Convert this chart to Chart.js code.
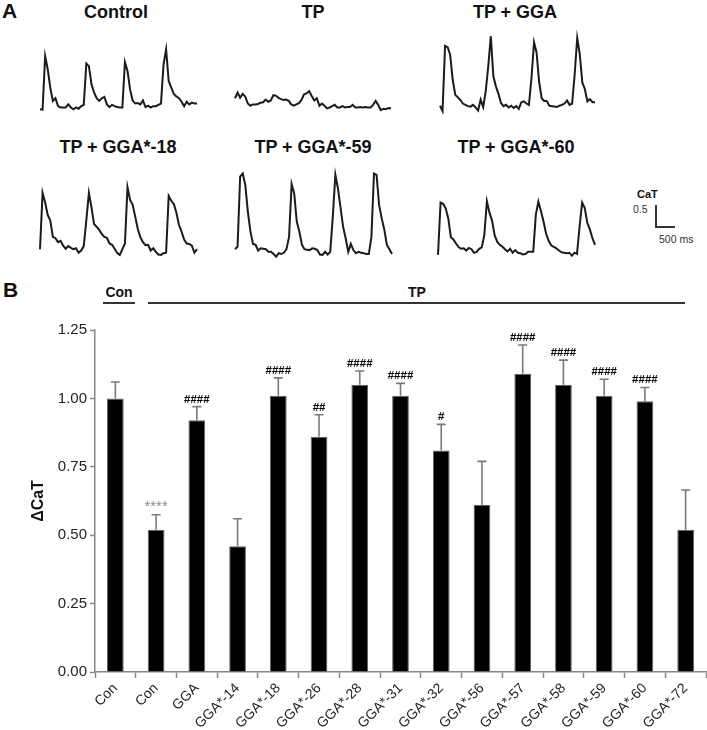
<!DOCTYPE html>
<html>
<head>
<meta charset="utf-8">
<script src="https://cdn.jsdelivr.net/npm/chart.js@4.4.0/dist/chart.umd.min.js"></script>
<style>
  body { margin: 0; background: #fff; width: 707px; height: 730px; position: relative; overflow: hidden;
         font-family: "Liberation Sans", Arial, sans-serif; color: #111; }
  canvas { position: absolute; }
  .t { position: absolute; white-space: nowrap; line-height: 1; }
  .b { font-weight: bold; }
  .c { transform: translateX(-50%); }
  .ln { position: absolute; background: #333; }
</style>
</head>
<body>
<!-- panel A -->
<div class="t b" style="left:2px;top:0px;font-size:21px">A</div>
<div class="t b c" style="left:116px;top:3px;font-size:18px">Control</div>
<div class="t b c" style="left:313px;top:3px;font-size:18px">TP</div>
<div class="t b c" style="left:515px;top:3px;font-size:18px">TP + GGA</div>
<div class="t b c" style="left:118px;top:138px;font-size:18px">TP + GGA*-18</div>
<div class="t b c" style="left:313px;top:138px;font-size:18px">TP + GGA*-59</div>
<div class="t b c" style="left:516px;top:138px;font-size:18px">TP + GGA*-60</div>

<canvas id="trControl"></canvas>
<canvas id="trTP"></canvas>
<canvas id="trGGA"></canvas>
<canvas id="tr18"></canvas>
<canvas id="tr59"></canvas>
<canvas id="tr60"></canvas>

<!-- scale bar -->
<div class="t b" style="left:637px;top:189px;font-size:11px">CaT</div>
<div class="t" style="left:633px;top:204px;font-size:10.5px;color:#333">0.5</div>
<div class="ln" style="left:655px;top:205px;width:1.5px;height:22px"></div>
<div class="ln" style="left:655px;top:226px;width:20px;height:1.5px"></div>
<div class="t" style="left:659px;top:234px;font-size:10.5px;color:#333">500 ms</div>

<!-- panel B -->
<div class="t b" style="left:3px;top:279px;font-size:21px">B</div>
<div class="t b c" style="left:119px;top:285px;font-size:14px">Con</div>
<div class="ln" style="left:103px;top:302px;width:32px;height:1.5px"></div>
<div class="t b c" style="left:417px;top:285px;font-size:14px">TP</div>
<div class="ln" style="left:148px;top:302px;width:537px;height:1.5px"></div>

<canvas id="barChart" width="707" height="430" style="left:0;top:300px"></canvas>

<script>
// ---- panel A: CaT traces (ΔCaT above baseline, one sample every 64 ms) ----
var DT = 64;
var PX_PER_CAT = 44;

var controlTrace = [0.04,0.03,1.25,0.95,0.53,0.23,0.29,0.11,0.08,0.08,0.08,0.15,0.08,0.04,0.08,0.05,0.11,0.14,
  1.08,1.02,0.61,0.42,0.29,0.23,0.29,0.32,0.15,0.09,0.14,0.11,0.09,0.08,0.08,
  1.11,0.91,0.49,0.24,0.17,0.18,0.15,0.24,0.09,0.12,0.08,0.11,0.11,0.14,0.17,
  1.06,1.40,0.68,0.53,0.39,0.33,0.29,0.21,0.11,0.21,0.15,0.19,0.17,0.17];

var tpTrace = [0.29,0.42,0.30,0.39,0.33,0.17,0.12,0.15,0.15,0.16,0.19,0.20,0.26,0.21,0.24,0.36,0.35,0.30,0.27,0.25,
  0.26,0.23,0.15,0.12,0.15,0.18,0.25,0.38,0.40,0.45,0.34,0.24,0.29,0.12,0.17,0.12,0.06,0.08,0.11,0.14,
  0.08,0.08,0.11,0.08,0.09,0.09,0.14,0.08,0.08,0.09,0.08,0.09,0.08,0.08,0.14,0.23,0.14,0.02,0.05,0.04,0.07,0.06];

var ggaTrace = [0.12,0.00,1.48,1.45,1.28,0.71,0.37,0.31,0.25,0.17,0.14,0.11,0.10,0.14,0.08,0.01,0.26,0.09,
  0.45,1.02,1.70,0.79,0.56,0.39,0.18,0.11,0.14,0.08,0.12,0.07,0.11,0.05,0.20,0.22,0.17,0.14,
  0.75,1.56,1.33,0.67,0.29,0.23,0.23,0.12,0.11,0.10,0.09,0.12,0.14,0.17,0.24,0.14,0.17,
  0.83,1.66,1.30,0.65,0.50,0.22,0.27,0.20,0.20];

var gga18Trace = [0.20,1.48,1.26,0.98,0.85,0.48,0.45,0.36,0.39,0.28,0.21,0.27,0.23,0.20,0.22,0.12,0.17,0.27,
  0.86,1.48,1.15,0.77,0.71,0.64,0.55,0.48,0.46,0.33,0.30,0.21,0.11,0.07,0.20,0.33,
  1.61,1.32,1.21,0.94,0.66,0.47,0.36,0.29,0.30,0.17,0.22,0.14,0.08,0.07,0.11,0.12,
  1.41,1.30,1.23,1.03,0.75,0.60,0.42,0.33,0.32,0.28,0.12,0.20];

var gga59Trace = [0.20,0.26,1.85,1.92,1.66,1.05,0.60,0.32,0.30,0.17,0.22,0.21,0.20,0.14,0.14,0.09,0.03,0.11,0.09,0.12,0.20,
  0.48,1.68,1.47,0.83,0.60,0.30,0.20,0.19,0.18,0.22,0.21,0.18,0.08,0.07,0.14,0.08,0.14,
  0.94,1.89,1.58,1.15,0.71,0.45,0.14,0.32,0.18,0.11,0.14,0.12,0.11,0.09,0.09,
  0.48,1.92,1.89,1.20,0.90,0.65,0.30,0.20,0.09];

var gga60Trace = [0.07,1.26,1.23,1.13,0.90,0.47,0.42,0.33,0.25,0.21,0.22,0.17,0.23,0.20,0.12,0.14,0.21,0.24,
  0.52,1.29,1.03,0.85,0.52,0.37,0.30,0.26,0.20,0.15,0.21,0.12,0.18,0.12,0.11,0.08,0.09,0.14,0.14,0.14,
  0.98,1.28,1.07,0.83,0.55,0.39,0.29,0.25,0.22,0.17,0.13,0.12,0.11,0.12,0.05,0.12,0.09,
  0.71,1.26,1.14,0.80,0.65,0.45,0.30];

// ---- panel B: ΔCaT bar chart ----
var categories = ["Con","Con","GGA","GGA*-14","GGA*-18","GGA*-26","GGA*-28","GGA*-31",
                  "GGA*-32","GGA*-56","GGA*-57","GGA*-58","GGA*-59","GGA*-60","GGA*-72"];
var meanCaT = [1.00,0.52,0.92,0.46,1.01,0.86,1.05,1.01,0.81,0.61,1.09,1.05,1.01,0.99,0.52];
var semCaT  = [0.06,0.055,0.05,0.10,0.065,0.08,0.05,0.045,0.095,0.16,0.105,0.09,0.06,0.05,0.145];
var marks   = ["","****","####","","####","##","####","####","#","","####","####","####","####",""];
var yTicks  = [0,0.25,0.5,0.75,1.0,1.25];

Chart.defaults.font.family = '"Liberation Sans", Arial, sans-serif';

function traceChart(id, values, left, baseline, width) {
  var H = 100, pad = 4;
  var cv = document.getElementById(id);
  cv.width = width + 2 * pad;
  cv.height = H + 2 * pad;
  cv.style.left = (left - pad) + 'px';
  cv.style.top = (baseline - H - pad) + 'px';
  new Chart(cv, {
    type: 'line',
    data: {
      datasets: [{
        data: values.map(function(v, i) { return {x: i * DT, y: v}; }),
        borderColor: '#1b1b1b',
        borderWidth: 2,
        pointRadius: 0,
        tension: 0,
        clip: pad
      }]
    },
    options: {
      responsive: false,
      animation: false,
      events: [],
      layout: {padding: pad},
      plugins: {legend: {display: false}, tooltip: {enabled: false}},
      scales: {
        x: {type: 'linear', display: false, min: 0, max: (values.length - 1) * DT},
        y: {display: false, min: 0, max: H / PX_PER_CAT}
      }
    }
  });
}

traceChart('trControl', controlTrace, 40, 111, 157);
traceChart('trTP', tpTrace, 235, 111, 156);
traceChart('trGGA', ggaTrace, 440, 111, 155);
traceChart('tr18', gga18Trace, 40, 258, 157);
traceChart('tr59', gga59Trace, 235, 258, 157);
traceChart('tr60', gga60Trace, 438, 258, 157);

// error bars and significance marks, placed through the chart scales
var errorBars = {
  id: 'errorBars',
  afterDatasetsDraw: function(chart) {
    var ctx = chart.ctx, x = chart.scales.x, y = chart.scales.y;
    ctx.save();
    meanCaT.forEach(function(m, i) {
      var px = x.getPixelForValue(i);
      var yMean = y.getPixelForValue(m);
      var yTop = y.getPixelForValue(m + semCaT[i]);
      ctx.strokeStyle = '#7a7a7a';
      ctx.lineWidth = 1.6;
      ctx.beginPath();
      ctx.moveTo(px, yMean);
      ctx.lineTo(px, yTop);
      ctx.moveTo(px - 4.5, yTop);
      ctx.lineTo(px + 4.5, yTop);
      ctx.stroke();
      if (marks[i]) {
        var star = marks[i].charAt(0) === '*';
        ctx.fillStyle = star ? '#8a8a8a' : '#000';
        ctx.font = star ? '15px "Liberation Sans", Arial, sans-serif'
                        : 'bold 11.5px "Liberation Sans", Arial, sans-serif';
        ctx.textAlign = 'center';
        ctx.textBaseline = 'alphabetic';
        ctx.fillText(marks[i], px, yTop - 4);
      }
    });
    ctx.restore();
  }
};

new Chart(document.getElementById('barChart'), {
  type: 'bar',
  data: {
    labels: categories,
    datasets: [{
      data: meanCaT,
      backgroundColor: '#000',
      borderColor: '#606060',
      borderWidth: 1,
      categoryPercentage: 1.0,
      barPercentage: 0.41
    }]
  },
  options: {
    responsive: false,
    animation: false,
    events: [],
    layout: {padding: {top: 30, right: 1, left: 0, bottom: 0}},
    plugins: {legend: {display: false}, tooltip: {enabled: false}},
    scales: {
      x: {
        afterFit: function(s) { s.height = 58; },
        grid: {offset: true, drawOnChartArea: false, tickLength: 6, tickColor: '#888', tickWidth: 1.5},
        border: {color: '#888', width: 1.5},
        ticks: {autoSkip: false, minRotation: 45, maxRotation: 45, color: '#222', font: {size: 14}, padding: 2}
      },
      y: {
        min: 0,
        max: 1.25,
        afterFit: function(s) { s.width = 95; },
        afterBuildTicks: function(s) { s.ticks = yTicks.map(function(v) { return {value: v}; }); },
        grid: {drawOnChartArea: false, tickLength: 5, tickColor: '#888', tickWidth: 1.5},
        border: {color: '#888', width: 1.5},
        ticks: {color: '#222', font: {size: 15}, padding: 3,
                callback: function(v) { return Number(v).toFixed(2); }},
        title: {display: true, text: 'ΔCaT', color: '#111', font: {size: 16, weight: 'bold'},
                padding: {top: 29, bottom: 0}}
      }
    }
  },
  plugins: [errorBars]
});
</script>
</body>
</html>
